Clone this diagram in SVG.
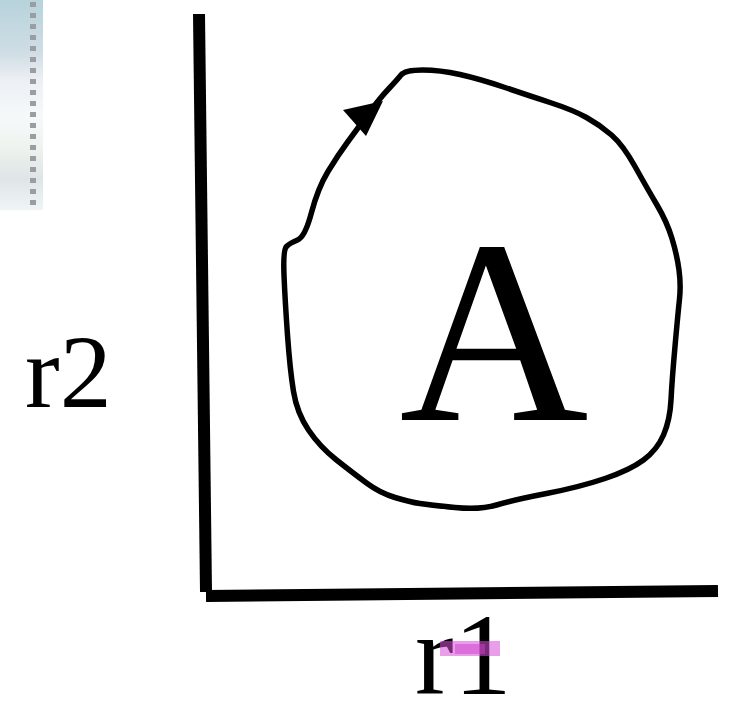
<svg xmlns="http://www.w3.org/2000/svg" width="734" height="702" viewBox="0 0 734 702">
<style>
.txt{font-family:"Liberation Serif","Times New Roman",serif;fill:#000}
.ax{stroke:#000;stroke-width:12;fill:none}
.loop{stroke:#000;stroke-width:5.5;fill:none;stroke-linejoin:round}
</style>
<defs>
<linearGradient id="bg" x1="0" y1="0" x2="0" y2="1">
<stop offset="0" stop-color="#b7d3dc"/>
<stop offset="0.25" stop-color="#cfdde4"/>
<stop offset="0.38" stop-color="#eceff4"/>
<stop offset="0.55" stop-color="#f6f9fa"/>
<stop offset="0.7" stop-color="#eef3ef"/>
<stop offset="0.85" stop-color="#dfe4e6"/>
<stop offset="1" stop-color="#eff4f6"/>
</linearGradient>
</defs>
<rect x="0" y="0" width="43" height="210" fill="url(#bg)"/>
<line x1="33" y1="2" x2="33" y2="210" stroke="#9a9ea2" stroke-width="6" stroke-dasharray="5,6"/>
<g id="axes">
<line class="ax" x1="199" y1="14" x2="206" y2="592"/>
<line class="ax" x1="206" y1="596" x2="718" y2="591"/>
</g>
<g id="loop">
<path class="loop" d="M422.5,70 Q440,70 460,74.5 Q480,79 505,87.5 Q530,96 551.5,103 Q573,110 586.5,117.5 Q600,125 611.5,135 Q623,145 635,166.5 Q647,188 657,205 Q667,222 672,238.5 Q677,255 679,270 Q681,285 679.5,299 Q678,313 675,346.5 Q672,380 671,400 Q670,420 663.5,435 Q657,450 643.5,460 Q630,470 605,478.5 Q580,487 546.5,493.5 Q513,500 496.5,505 Q480,510 455,507.5 Q430,505 420,503.5 Q410,502 395,497.5 Q380,493 366.5,483 Q353,473 336.5,460 Q320,447 308.5,430 Q297,413 293.5,391.5 Q290,370 287.5,335 Q285,300 284,275 Q283,250 286.5,246.5 Q290,243 297.5,240 Q305,237 311.5,212.5 Q318,188 328,171.5 Q338,155 348,141.5 Q358,128 369,113 Q380,98 388.5,89 Q397,80 401,75 Q405,70 422.5,70 Z"/>
<polygon points="383,101 343,110 366,136" fill="#000"/>
</g>
<g id="A">
<text class="txt" x="494" y="420" font-size="262" text-anchor="middle">A</text>
</g>
<g id="r2">
<text class="txt" x="25" y="407" font-size="104">r2</text>
</g>
<g id="r1">
<text class="txt" x="415" y="694" font-size="116">r1</text>
<rect x="440" y="641" width="60" height="15" fill="#d64fd6" opacity="0.55"/>
<rect x="455" y="644" width="30" height="10" fill="#d13fd1" opacity="0.5"/>
</g>
</svg>
